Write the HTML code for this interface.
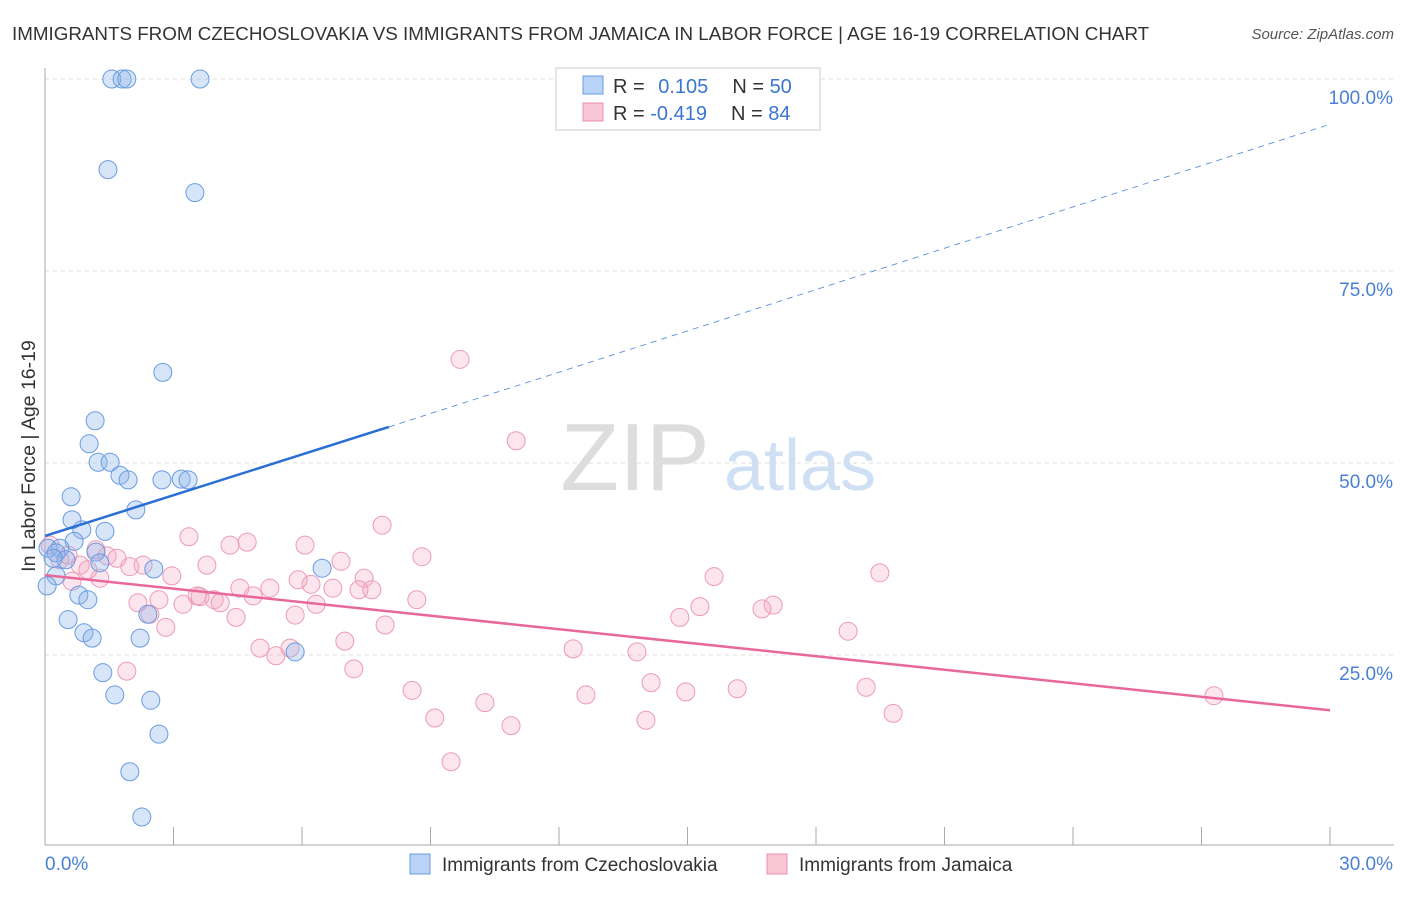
<!DOCTYPE html>
<html><head><meta charset="utf-8"><style>
body{margin:0;background:#fff;font-family:"Liberation Sans",sans-serif}
svg text{font-family:"Liberation Sans",sans-serif}
</style></head><body>
<svg id="c" width="1406" height="892">
<text x="12" y="40" font-size="18.8" fill="#333">IMMIGRANTS FROM CZECHOSLOVAKIA VS IMMIGRANTS FROM JAMAICA IN LABOR FORCE | AGE 16-19 CORRELATION CHART</text>
<text x="1394" y="39" font-size="15" fill="#555" text-anchor="end" font-style="italic">Source: ZipAtlas.com</text>
<g><text x="635" y="490" font-size="96" fill="#ddd" font-family="Liberation Serif" text-anchor="middle">ZIP</text><text x="800" y="490" font-size="72" fill="#cfe0f5" text-anchor="middle">atlas</text></g>
<g id="grid"></g><g id="pts"></g><g id="lines"></g>
<text x="35" y="456" font-size="19.5" fill="#333" text-anchor="middle" transform="rotate(-90 35 456)">In Labor Force | Age 16-19</text>
<g>
<rect x="556" y="68" width="264" height="62" fill="#fff" stroke="#ccc"/>
<rect x="583" y="76" width="20" height="18" fill="#b8d3f5" stroke="#6a9be0"/>
<rect x="583" y="103" width="20" height="18" fill="#f9c6d6" stroke="#e890ad"/>
<text x="613" y="93" font-size="20" fill="#333">R = <tspan fill="#3b76d0" dx="8">0.105</tspan><tspan dx="24">N = </tspan><tspan fill="#3b76d0">50</tspan></text>
<text x="613" y="120" font-size="20" fill="#333">R = <tspan fill="#3b76d0">-0.419</tspan><tspan dx="24">N = </tspan><tspan fill="#3b76d0">84</tspan></text>
</g>
<g>
<rect x="410" y="854" width="20" height="20" fill="#b8d3f5" stroke="#6a9be0"/>
<text x="442" y="871" font-size="19" fill="#333">Immigrants from Czechoslovakia</text>
<rect x="767" y="854" width="20" height="20" fill="#f9c6d6" stroke="#e890ad"/>
<text x="799" y="871" font-size="19" fill="#333">Immigrants from Jamaica</text>
</g>
</svg>
<script>
const yTicks=[25,50,75,100];
const yTickLabels=["25.0%","50.0%","75.0%","100.0%"];
const xTicks=[3,6,9,12,15,18,21,24,27,30];
const blueX=[1.56,1.80,1.91,3.62,1.47,3.50,2.75,1.17,1.03,1.24,1.52,1.75,1.94,2.73,3.18,3.34,0.61,2.12,0.63,0.86,1.40,0.68,0.07,0.35,0.26,1.19,0.49,1.28,0.19,2.54,6.47,0.26,0.05,0.79,1.00,0.54,2.40,0.91,1.10,2.22,5.84,1.35,1.63,2.47,2.66,1.98,2.26];
const blueY=[100,100,100,100,88.2,85.2,61.8,55.5,52.5,50.1,50.1,48.4,47.8,47.8,47.9,47.8,45.6,43.9,42.6,41.3,41.1,39.8,38.9,38.9,38.3,38.4,37.4,37.0,37.6,36.2,36.3,35.3,34.0,32.8,32.2,29.6,30.3,27.9,27.2,27.2,25.4,22.7,19.8,19.1,14.7,9.8,3.9];
const pinkX=[9.69,11.00,7.87,3.36,4.72,4.32,6.07,8.80,6.91,1.45,1.68,1.19,0.35,0.82,1.98,2.29,3.78,2.96,1.28,0.63,5.91,7.45,6.21,6.72,4.55,5.25,7.63,7.33,4.86,3.55,3.62,3.95,2.17,3.22,2.66,4.09,6.33,8.68,4.46,5.84,2.45,2.82,7.94,7.00,5.02,5.72,5.39,7.21,1.91,15.62,15.29,17.00,16.74,14.82,19.49,18.75,12.33,13.82,14.15,12.63,14.96,16.16,19.17,8.57,10.27,19.80,9.10,14.03,10.88,9.48,27.29,0.12,0.54,1.00];
const pinkY=[63.5,52.9,41.9,40.4,39.7,39.3,39.3,37.8,37.2,37.9,37.6,38.7,37.4,36.7,36.5,36.7,36.7,35.3,35.0,34.6,34.8,35.0,34.2,33.7,33.7,33.7,33.5,33.5,32.7,32.7,32.6,32.2,31.8,31.6,32.2,31.8,31.6,32.2,29.9,30.2,30.3,28.6,28.9,26.8,25.9,25.9,24.9,23.2,22.9,35.2,31.3,31.5,31.0,29.9,35.7,28.1,25.8,25.4,21.4,19.8,20.2,20.6,20.8,20.4,18.8,17.4,16.8,16.5,15.8,11.1,19.7,39.3,38.0,36.1];
const blueTrendX=[0,8.03,30];
const blueTrendY=[40.5,54.7,94.1];
const pinkTrendX=[0,30];
const pinkTrendY=[35.4,17.8];
const X=v=>45+v*1285/30, Y=v=>847-v*7.68;
const NS="http://www.w3.org/2000/svg";
function mk(t,a,p){const e=document.createElementNS(NS,t);for(const k in a)e.setAttribute(k,a[k]);p.appendChild(e);return e;}
const gridG=document.getElementById('grid');
yTicks.forEach((t,i)=>{const l=mk('line',{x1:45,x2:1394,y1:Y(t),y2:Y(t),stroke:'#ddd','stroke-dasharray':'4 4'},gridG);


const tx=mk('text',{x:1393,y:Y(t)+25,'font-size':19,fill:'#4a80d4','text-anchor':'end'},gridG);tx.textContent=yTickLabels[i];

});
const yAxisLine=mk('line',{x1:45,x2:45,y1:68,y2:845,stroke:'#aaa'},gridG);


const xAxisLine=mk('line',{x1:45,x2:1394,y1:845,y2:845,stroke:'#aaa'},gridG);


xTicks.forEach(t=>{const l=mk('line',{x1:X(t),x2:X(t),y1:827,y2:845,stroke:'#aaa'},gridG);

});
const xl0=mk('text',{x:45,y:870,'font-size':19,fill:'#4a80d4'},gridG);xl0.textContent='0.0%';


const xl1=mk('text',{x:1393,y:870,'font-size':19,fill:'#4a80d4','text-anchor':'end'},gridG);xl1.textContent='30.0%';


const ptsG=document.getElementById('pts');
pinkX.forEach((x,i)=>{const c=mk('circle',{cx:X(x),cy:Y(pinkY[i]),r:9,fill:'rgba(246,170,195,0.3)',stroke:'#ec9ab5','stroke-width':1},ptsG);

});
blueX.forEach((x,i)=>{const c=mk('circle',{cx:X(x),cy:Y(blueY[i]),r:9,fill:'rgba(140,180,235,0.35)',stroke:'#6a9be0','stroke-width':1},ptsG);

});
const lnG=document.getElementById('lines');
const b1=mk('line',{x1:X(blueTrendX[0]),y1:Y(blueTrendY[0]),x2:X(blueTrendX[1]),y2:Y(blueTrendY[1]),stroke:'#2a6fd6','stroke-width':2.5},lnG);


const b2=mk('line',{x1:X(blueTrendX[1]),y1:Y(blueTrendY[1]),x2:X(blueTrendX[2]),y2:Y(blueTrendY[2]),stroke:'#5a8fdc','stroke-width':0.9,'stroke-dasharray':'6 5'},lnG);


const p1=mk('line',{x1:X(pinkTrendX[0]),y1:Y(pinkTrendY[0]),x2:X(pinkTrendX[1]),y2:Y(pinkTrendY[1]),stroke:'#e8689a','stroke-width':2.5},lnG);


</script>
</body></html>
